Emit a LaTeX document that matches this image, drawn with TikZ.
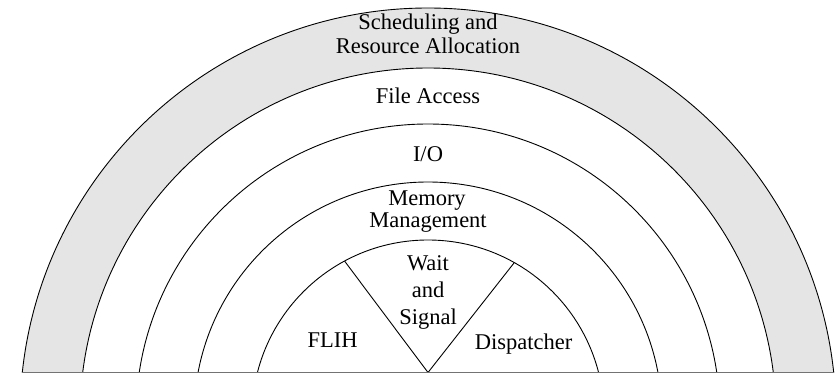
\documentclass[tikz,border=0pt]{standalone}
\usepackage{fontspec}
\setmainfont{Liberation Serif}
\begin{document}
\begin{tikzpicture}[x=1pt,y=-1pt,
  ring/.style={draw=black, line width=0.9pt},
  base/.style={draw=black!55, line width=1.3pt},
  lbl/.style={inner sep=0pt, anchor=base, font=\fontsize{22.5}{25}\selectfont}]
\useasboundingbox (0,0) rectangle (836,374);
\coordinate (C) at (428,416);
\coordinate (A) at (428,372.5);
\coordinate (L) at (22.3,372.5);
\coordinate (R) at (833.7,372.5);
\coordinate (WL) at (344.6,261.1);
\coordinate (WR) at (514.3,262.6);
\begin{scope}
  \clip (0,0) rectangle (836,372.5);
  \fill[black!10, even odd rule] (C) circle[radius=408] (C) circle[radius=348];
  \foreach \r in {408,348,292,234,176} \draw[ring] (C) circle[radius=\r];
\end{scope}
\draw[ring] (A) -- (WL);
\draw[ring] (A) -- (WR);
\draw[base] (L) -- (R);
\node[lbl] (s1) at (428,29.5) {Scheduling and};
\node[lbl] (s2) at (428,54) {Resource Allocation};
\node[lbl] (fa) at (428,103.3) {File Access};
\node[lbl] (io) at (428,161.7) {I/O};
\node[lbl] (m1) at (427,206) {Memory};
\node[lbl] (m2) at (428,227.5) {Management};
\node[lbl] (w1) at (428,270.7) {Wait};
\node[lbl] (w2) at (428,298) {and};
\node[lbl] (w3) at (428,325) {Signal};
\node[lbl] (fl) at (332.5,348) {FLIH};
\node[lbl] (di) at (523.5,349) {Dispatcher};
\end{tikzpicture}
\end{document}
